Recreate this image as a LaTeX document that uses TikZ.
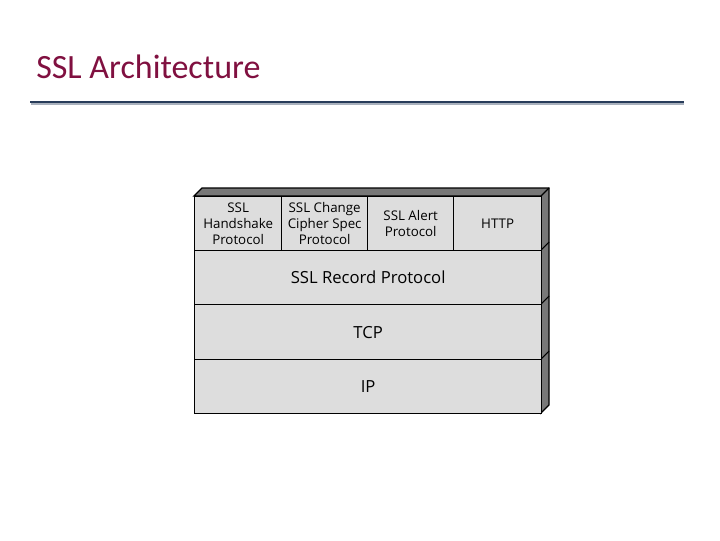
\documentclass[tikz,border=0pt]{standalone}
\usepackage{fontspec}
\setmainfont{Carlito}
\newfontfamily\diag{Open Sans}
\definecolor{titlec}{RGB}{128,16,64}
\definecolor{rulec}{RGB}{40,60,90}
\definecolor{cellc}{RGB}{221,221,221}
\definecolor{sidec}{RGB}{120,120,120}
\begin{document}
\begin{tikzpicture}[x=0.75pt,y=-0.75pt,
  cell/.style={draw=black,line width=1pt,fill=cellc,inner sep=0pt,font=\diag\fontsize{10}{12}\selectfont,align=center},
  big/.style={cell,font=\diag\fontsize{12.5}{14}\selectfont}]
\useasboundingbox (0,0) rectangle (720,540);
\node[anchor=base west,text=titlec,font=\fontsize{25.5}{30}\selectfont,inner sep=0pt] (title) at (36,78) {SSL Architecture};
\draw[rulec!40,line width=1pt] (31,104) -- (684,104);
\draw[rulec,line width=2pt] (30,102) coordinate (r1) -- (684,102) coordinate (r2);
% 3D faces
\draw[fill=sidec,line width=1pt] (194,196) -- (202,188) -- (549,188) -- (549,405) -- (541,413) -- (541,196) -- cycle;
\foreach \yy in {250,304,359} \draw[line width=0.8pt] (541,\yy) -- (549,\yy-8);
\draw[line width=1pt] (541,196) -- (549,188);
% rows
\node[cell,minimum width=87pt*0.75,minimum height=54*0.75pt,anchor=north west] (hs) at (194,196) {SSL\\Handshake\\Protocol};
\node[cell,minimum width=86*0.75pt,minimum height=54*0.75pt,anchor=north west] (cc) at (281,196) {SSL Change\\Cipher Spec\\Protocol};
\node[cell,minimum width=86*0.75pt,minimum height=54*0.75pt,anchor=north west] (al) at (367,196) {SSL Alert\\Protocol};
\node[cell,minimum width=88*0.75pt,minimum height=54*0.75pt,anchor=north west] (http) at (453,196) {HTTP};
\node[big,minimum width=347*0.75pt,minimum height=54*0.75pt,anchor=north west] (rec) at (194,250) {SSL Record Protocol};
\node[big,minimum width=347*0.75pt,minimum height=55*0.75pt,anchor=north west] (tcp) at (194,304) {TCP};
\node[big,minimum width=347*0.75pt,minimum height=54*0.75pt,anchor=north west] (ip) at (194,359) {IP};
\end{tikzpicture}
\end{document}
